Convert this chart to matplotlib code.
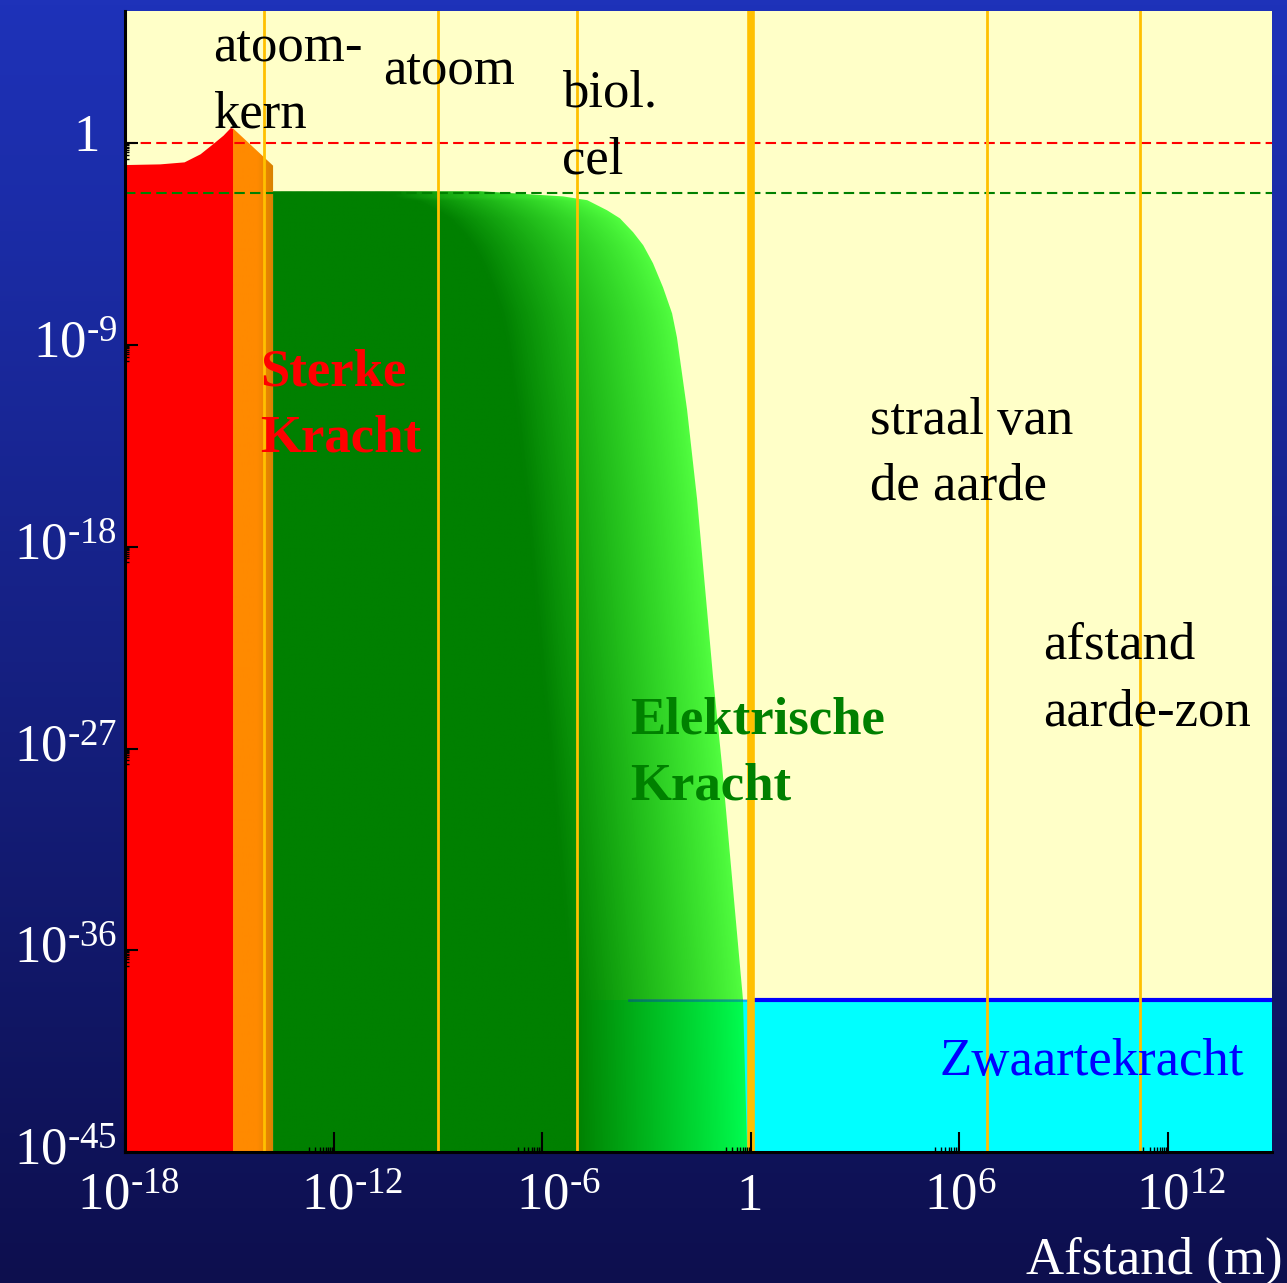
import numpy as np
import matplotlib.pyplot as plt
from matplotlib.patches import Polygon
from matplotlib.ticker import NullFormatter

plt.rcParams['font.family'] = ['Liberation Serif', 'DejaVu Serif']
plt.rcParams['mathtext.fontset'] = 'custom'
plt.rcParams['mathtext.rm'] = 'Liberation Serif'
plt.rcParams['mathtext.it'] = 'Liberation Serif:italic'
plt.rcParams['mathtext.bf'] = 'Liberation Serif:bold'

# log10-waarden
sterk_lx = [-18.0, -17.0, -16.3, -15.84, -15.47, -15.18, -14.97, -14.89]
sterk_ly = [-0.95, -0.92, -0.83, -0.47, -0.01, 0.36, 0.70, 0.66]

kern_lx = [-14.89, -13.74]   # oranje overgang
kern_ly = [0.66, -1.00]

elek_lx = [-13.74, -7.78, -5.40, -4.70, -4.13, -3.76, -3.38, -3.09, -2.81,
           -2.52, -2.26, -2.12, -1.83, -1.54, -1.31, -1.08, -0.82, -0.59,
           -0.36, -0.22, -0.10]
elek_ly = [-2.14, -2.14, -2.37, -2.54, -2.99, -3.35, -3.97, -4.55, -5.35,
           -6.43, -7.59, -8.66, -11.87, -15.89, -19.86, -23.83, -27.80, -31.82,
           -35.79, -38.20, -45.0]

zwaarte_lx = [0.0, 15.0]
zwaarte_ly = [-38.2, -38.2]

alfa_sterk = 1.0        # rode stippellijn
alfa_elek = 10**-2.2    # groene stippellijn

# atoomkern, atoom, cel, 1 m, straal aarde, afstand aarde-zon
schalen = [1e-14, 1e-9, 1e-5, 1.0, 6.4e6, 1.6e11]
schaal_lw = [2, 2, 2, 5.5, 2, 2]

xticks = [1e-18, 1e-12, 1e-6, 1, 1e6, 1e12]
xlabels = ['$10^{\\text{-}18}$', '$10^{\\text{-}12}$', '$10^{\\text{-}6}$', '1',
           '$10^{6}$', '$10^{12}$']
yticks = [1e-45, 1e-36, 1e-27, 1e-18, 1e-9, 1]
ylabels = ['$10^{\\text{-}45}$', '$10^{\\text{-}36}$', '$10^{\\text{-}27}$',
           '$10^{\\text{-}18}$', '$10^{\\text{-}9}$', '1']

# kleine verschuivingen van de labels (pixels), zoals in het origineel
x_dx = [3, 19, 16, -1, 1, 13]
y_dx = [0, 0, 0, 0, 0, -17]
y_dy = [0, 0, 0, 0, 0, 5]

XLO, XHI = -18, 15
YLO, YHI = -45, 5.9

fig = plt.figure(figsize=(12.87, 12.83), dpi=100)

# achtergrond verloop
bg = fig.add_axes([0, 0, 1, 1], zorder=-10)
top = np.array([30, 50, 185]) / 255
bot = np.array([13, 15, 78]) / 255
f = np.linspace(0, 1, 256)[:, None]
grad = top[None, :] * (1 - f) + bot[None, :] * f
bg.imshow(grad[:, None, :], aspect='auto', extent=[0, 1, 0, 1])
bg.axis('off')

L, R, B, T = 125, 1272, 1152, 11
ax = fig.add_axes([L / 1287, 1 - B / 1283, (R - L) / 1287, (B - T) / 1283])
ax.set_facecolor('#ffffc8')
ax.set_xscale('log')
ax.set_yscale('log')
ax.set_xlim(10.0**XLO, 10.0**XHI)
ax.set_ylim(10.0**YLO, 10.0**YHI)
ax.set_autoscale_on(False)

def px(x, y):
    return ((x - L) / (R - L), (B - y) / (B - T))

ybot = 1e-46

# zwaartekracht
ax.fill_between([1e-6, 1e15], 10**zwaarte_ly[0], ybot, color='cyan', lw=0, zorder=1)

# sterke kracht
ax.fill_between(10.0**np.array(sterk_lx), 10.0**np.array(sterk_ly), ybot,
                color='red', lw=0, zorder=2)

# oranje overgang
kx = 10.0**np.array(kern_lx)
ky = 10.0**np.array(kern_ly)
kpoly = Polygon(list(zip(kx, ky)) + [(kx[-1], ybot), (kx[0], ybot)],
                closed=True, transform=ax.transData, fc='none', ec='none')
W = 1200
u = np.linspace(0, 1, W)
u0 = (kern_lx[0] - XLO) / (XHI - XLO)
u1 = (kern_lx[1] - XLO) / (XHI - XLO)
um = u0 + 0.6 * (u1 - u0)
s = np.clip((u - um) / (u1 - um), 0, 1)
oimg = np.zeros((2, W, 4))
oimg[..., 0] = (255 - 40 * s) / 255
oimg[..., 1] = (138 - 8 * s) / 255
oimg[..., 3] = 1
im = ax.imshow(oimg, extent=[0, 1, 0, 1], transform=ax.transAxes, origin='lower',
               aspect='auto', interpolation='bilinear', zorder=2)
im.set_clip_path(kpoly)

# elektrische kracht
ex = 10.0**np.array(elek_lx)
ey = 10.0**np.array(elek_ly)
epoly = Polygon(list(zip(ex, ey)) + [(ex[-1], ybot), (ex[0], ybot)],
                closed=True, transform=ax.transData, fc='none', ec='none')
H = 700
v = np.linspace(0, 1, H)[:, None]
uu = u[None, :]
eu = (np.array(elek_lx[2:]) - XLO) / (XHI - XLO)
ev = (np.array(elek_ly[2:]) - YLO) / (YHI - YLO)
u_rand = np.interp(v, ev[::-1], eu[::-1])
t = np.clip((u_rand - uu) / 0.148, 0, 1) ** 0.8
gimg = np.zeros((H, W, 4))
gimg[..., 1] = (255 - 127 * t) / 255
gimg[..., 3] = 0.68 + 0.32 * t
im = ax.imshow(gimg, extent=[0, 1, 0, 1], transform=ax.transAxes, origin='lower',
               aspect='auto', interpolation='bilinear', zorder=2)
im.set_clip_path(epoly)

ax.plot([10**-3.5, 1], [10**zwaarte_ly[0]] * 2, color='blue', alpha=0.3, lw=2, zorder=3)
ax.plot(10.0**np.array(zwaarte_lx), 10.0**np.array(zwaarte_ly), color='blue', lw=3, zorder=3)

ax.axhline(alfa_sterk, color='red', lw=1.5, dashes=(5, 2.5), zorder=4)
ax.axhline(alfa_elek, color='#008000', lw=1.5, dashes=(5, 2.5), zorder=4)

for xs, lw in zip(schalen, schaal_lw):
    ax.axvline(xs, color='#ffc000', lw=lw, zorder=5)

fs = 38
# (tekst, x, basislijn laatste regel) in pixels
teksten = [
    ('atoom-\nkern', 213, 127, 'black', 'normal'),
    ('atoom', 383, 84, 'black', 'normal'),
    ('biol.\ncel', 562, 173, 'black', 'normal'),
    ('Sterke\nKracht', 260, 452, 'red', 'bold'),
    ('straal van\nde aarde', 870, 500, 'black', 'normal'),
    ('afstand\naarde-zon', 1043, 725, 'black', 'normal'),
    ('Elektrische\nKracht', 630, 800, '#008000', 'bold'),
    ('Zwaartekracht', 940, 1075, 'blue', 'normal'),
]
for txt, x, y, c, w in teksten:
    ax.text(*px(x, y), txt, transform=ax.transAxes, fontsize=fs, color=c,
            fontweight=w, ha='left', va='baseline', linespacing=1.49, zorder=6)

fig.text(1283 / 1287, 1 - 1274 / 1283, 'Afstand (m)', fontsize=fs, color='white',
         ha='right', va='baseline')

# assen
ax.set_xticks(xticks)
ax.set_yticks(yticks)
ax.set_xticks([k * m / 10 for m in xticks for k in range(2, 10)], minor=True)
ax.set_yticks([k * m / 10 for m in yticks for k in range(2, 10)], minor=True)
for a in [ax.xaxis, ax.yaxis]:
    a.set_major_formatter(NullFormatter())
    a.set_minor_formatter(NullFormatter())
ax.tick_params(which='both', direction='in', color='black')
ax.tick_params(axis='x', which='major', length=14.4, width=1.5)
ax.tick_params(axis='x', which='minor', length=3.6, width=1)
ax.tick_params(axis='y', which='major', length=9.5, width=1.5)
ax.tick_params(axis='y', which='minor', length=3, width=1)
ax.xaxis.set_zorder(10)
ax.yaxis.set_zorder(10)

for xt, lab, dx in zip(xticks, xlabels, x_dx):
    ax.annotate(lab, xy=(xt, 0), xycoords=('data', 'axes fraction'),
                xytext=(dx, -21), textcoords='offset pixels', ha='center', va='top',
                fontsize=38, color='white', annotation_clip=False)
for yt, lab, dx, dy in zip(yticks, ylabels, y_dx, y_dy):
    ax.annotate(lab, xy=(0, yt), xycoords=('axes fraction', 'data'),
                xytext=(-8 + dx, dy), textcoords='offset pixels', ha='right',
                va='center', fontsize=38, color='white', annotation_clip=False)

for k in ['top', 'right']:
    ax.spines[k].set_visible(False)
for k in ['left', 'bottom']:
    ax.spines[k].set_linewidth(2.2)
    ax.spines[k].set_zorder(10)

# grenzen pas na de ticks vastleggen
ax.set_xlim(10.0**XLO, 10.0**XHI)
ax.set_ylim(10.0**YLO, 10.0**YHI)

fig.savefig('out.png', dpi=100)
